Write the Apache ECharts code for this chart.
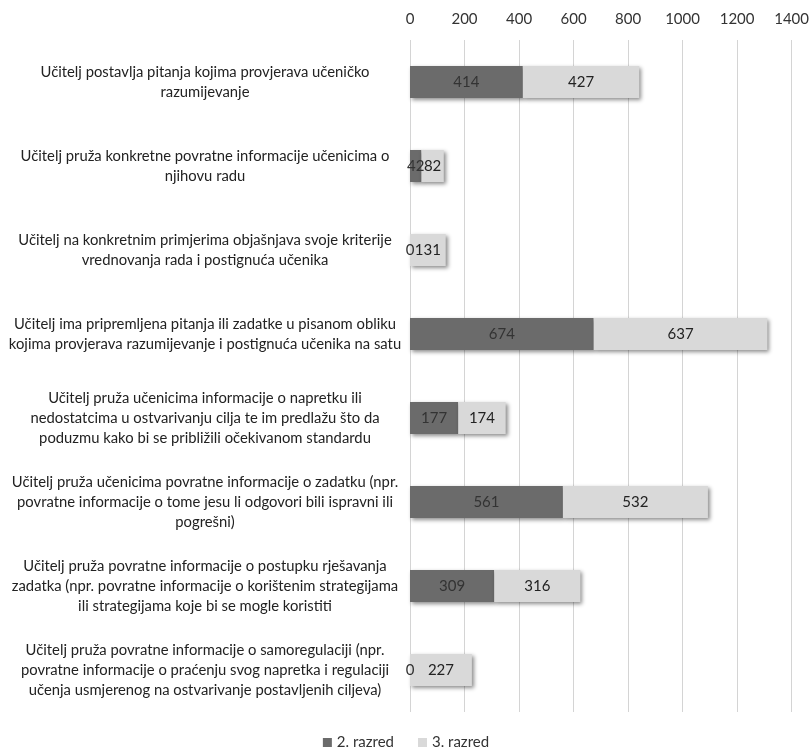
<!DOCTYPE html>
<html>
<head>
<meta charset="utf-8">
<script src="https://cdn.jsdelivr.net/npm/echarts@6/dist/echarts.min.js"></script>
<style>
  html, body { margin: 0; padding: 0; background: #fff; }
  #chart { width: 812px; height: 752px; }
</style>
</head>
<body>
<div id="chart"></div>
<script>
// Statements about teacher feedback practice (one per row, top to bottom)
const categories = [
  'Učitelj postavlja pitanja kojima provjerava učeničko\nrazumijevanje',
  'Učitelj pruža konkretne povratne informacije učenicima o\nnjihovu radu',
  'Učitelj na konkretnim primjerima objašnjava svoje kriterije\nvrednovanja rada i postignuća učenika',
  'Učitelj ima pripremljena pitanja ili zadatke u pisanom obliku\nkojima provjerava razumijevanje i postignuća učenika na satu',
  'Učitelj pruža učenicima informacije o napretku ili\nnedostatcima u ostvarivanju cilja te im predlažu što da\npoduzmu kako bi se približili očekivanom standardu',
  'Učitelj pruža učenicima povratne informacije o zadatku (npr.\npovratne informacije o tome jesu li odgovori bili ispravni ili\npogrešni)',
  'Učitelj pruža povratne informacije o postupku rješavanja\nzadatka (npr. povratne informacije o korištenim strategijama\nili strategijama koje bi se mogle koristiti',
  'Učitelj pruža povratne informacije o samoregulaciji (npr.\npovratne informacije o praćenju svog napretka i regulaciji\nučenja usmjerenog na ostvarivanje postavljenih ciljeva)'
];

const razred2 = [414, 42, 0, 674, 177, 561, 309, 0];
const razred3 = [427, 82, 131, 637, 174, 532, 316, 227];

const seriesNames = ['2. razred', '3. razred'];
const axisTicks = [0, 200, 400, 600, 800, 1000, 1200, 1400];

const FONT = 'Lato, "Open Sans", sans-serif';

const chart = echarts.init(document.getElementById('chart'));

const barShadow = {
  shadowColor: 'rgba(0,0,0,0.45)',
  shadowBlur: 4,
  shadowOffsetX: 2,
  shadowOffsetY: 2
};

chart.setOption({
  animation: false,
  textStyle: { fontFamily: FONT },
  grid: { left: 410, right: 18, top: 40, bottom: 40, containLabel: false },
  legend: {
    bottom: -3,
    left: 'center',
    itemWidth: 9,
    itemHeight: 9,
    itemGap: 24,
    icon: 'rect',
    textStyle: { fontFamily: FONT, fontSize: 15, color: '#333' },
    data: seriesNames
  },
  xAxis: {
    type: 'value',
    position: 'top',
    min: axisTicks[0],
    max: axisTicks[axisTicks.length - 1],
    interval: axisTicks[1] - axisTicks[0],
    axisLine: { show: false },
    axisTick: { show: false },
    axisLabel: {
      fontFamily: FONT,
      fontSize: 15,
      color: '#333',
      margin: 13,
      formatter: v => String(v)
    },
    splitLine: { show: true, lineStyle: { color: '#d4d4d4', width: 1 } }
  },
  yAxis: {
    type: 'category',
    inverse: true,
    data: categories,
    axisLine: { show: false },
    axisTick: { show: false },
    axisLabel: {
      fontFamily: FONT,
      fontSize: 14.8,
      color: '#222',
      lineHeight: 20,
      align: 'center',
      margin: 205
    }
  },
  series: [
    {
      name: seriesNames[0],
      type: 'bar',
      stack: 'total',
      data: razred2,
      barWidth: 32,
      itemStyle: Object.assign({ color: '#6b6b6b' }, barShadow),
      label: {
        show: true,
        position: 'inside',
        fontFamily: FONT,
        fontSize: 15,
        color: '#333'
      }
    },
    {
      name: seriesNames[1],
      type: 'bar',
      stack: 'total',
      data: razred3,
      barWidth: 32,
      itemStyle: Object.assign({ color: '#d9d9d9' }, barShadow),
      label: {
        show: true,
        position: 'inside',
        fontFamily: FONT,
        fontSize: 15,
        color: '#222'
      }
    }
  ]
});
</script>
</body>
</html>
